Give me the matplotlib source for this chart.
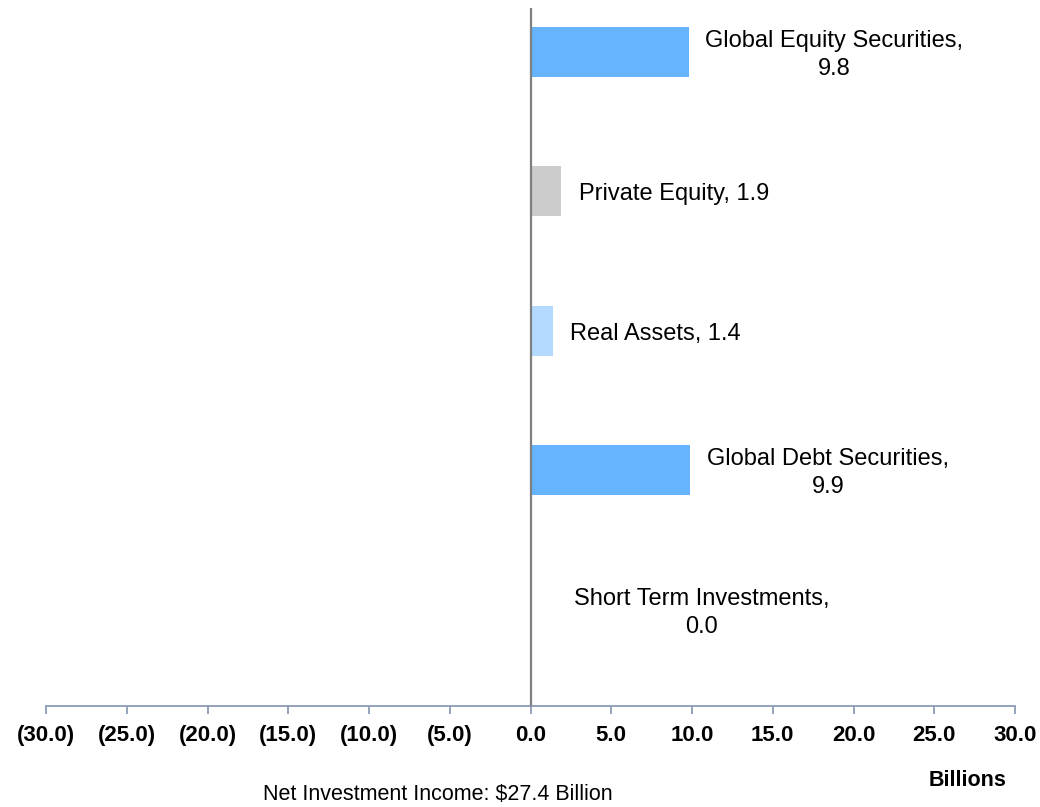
import matplotlib
matplotlib.use('Agg')
import matplotlib.pyplot as plt
from matplotlib.ticker import FuncFormatter

categorias = ['Global Equity Securities', 'Private Equity', 'Real Assets',
              'Global Debt Securities', 'Short Term Investments']
valores = [9.8, 1.9, 1.4, 9.9, 0.0]
cores = ['#66B3FF', '#CCCCCC', '#B3D9FF', '#66B3FF', '#66B3FF']
rotulos = ['Global Equity Securities,\n9.8', 'Private Equity, 1.9', 'Real Assets, 1.4',
           'Global Debt Securities,\n9.9', 'Short Term Investments,\n0.0']
ticks_x = [-30, -25, -20, -15, -10, -5, 0, 5, 10, 15, 20, 25, 30]

fonte_texto = ['Liberation Sans', 'DejaVu Sans']
fonte_ticks = ['Liberation Sans', 'DejaVu Sans']

fig = plt.figure(figsize=(10.4, 8.07), dpi=100)
ax = fig.add_axes([46 / 1040, 101 / 807, 969 / 1040, 698 / 807])

pos_y = list(range(len(categorias)))
ax.barh(pos_y, valores, height=0.36, color=cores, zorder=2)

# distancia do rotulo ate o fim da barra (pixels)
gaps = [16, 18, 17, 17, 43]
for y, v, txt, g in zip(pos_y, valores, rotulos, gaps):
    ax.annotate(txt, xy=(v, y), xytext=(g * 0.72, -2), textcoords='offset points',
                ha='left', va='center', multialignment='center',
                fontsize=17, family=fonte_texto, color='black', linespacing=1.35)

ax.axvline(0, color='#7F7F7F', lw=1.6, zorder=3)

ax.set_xlim(-30, 30)
ax.set_ylim(4.69, -0.315)
ax.set_xticks(ticks_x)
ax.xaxis.set_major_formatter(FuncFormatter(
    lambda v, p: f'({abs(v):.1f})' if v < 0 else f'{v:.1f}'))
ax.set_yticks([])

for s in ['left', 'right', 'top']:
    ax.spines[s].set_visible(False)
ax.spines['bottom'].set_color('#8C9BB8')
ax.spines['bottom'].set_linewidth(1.3)
ax.tick_params(axis='x', direction='out', length=6, width=1.3, color='#8C9BB8',
               pad=8, labelsize=16)
for lbl in ax.get_xticklabels():
    lbl.set_fontweight('bold')
    lbl.set_family(fonte_ticks)

fig.text(968 / 1040, 1 - 781 / 807, 'Billions', ha='center', va='center',
         fontsize=15.5, fontweight='bold', family=fonte_ticks)
fig.text(438 / 1040, 1 - 794 / 807, 'Net Investment Income: $27.4 Billion',
         ha='center', va='center', fontsize=15.5, family=fonte_texto)

plt.savefig('out.png', dpi=100)
